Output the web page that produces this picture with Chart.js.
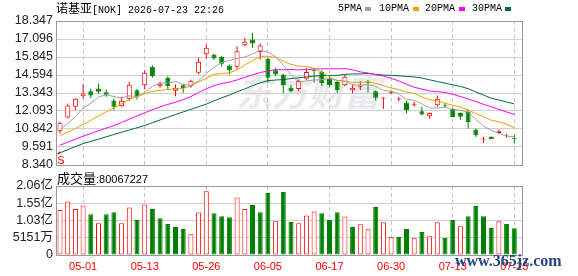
<!DOCTYPE html>
<html>
<head>
<meta charset="utf-8">
<script src="https://cdn.jsdelivr.net/npm/chart.js@4.4.1/dist/chart.umd.min.js"></script>
<style>
  html, body { margin: 0; padding: 0; background: #fff; }
  #wrap { position: relative; width: 578px; height: 276px; overflow: hidden; }
  #wrap canvas { position: absolute; left: 0; top: 0; }
  .t { position: absolute; white-space: nowrap; line-height: 16px; }
  .cn { font-family: "Noto Sans CJK SC", sans-serif; }
  .mono { font-family: "Liberation Mono", monospace; font-size: 10px; }
  .box { position: absolute; width: 6px; height: 4px; }
</style>
</head>
<body>
<div id="wrap">
  <div class="t cn" style="left:236px;top:68px;font-size:36px;line-height:44px;font-weight:bold;font-style:italic;color:#e9e9ee;">东方财富</div>
  <canvas id="volChart" width="578" height="276"></canvas>
  <canvas id="kChart" width="578" height="276"></canvas>

  <div class="t" style="left:56px;top:0px;"><span class="cn" style="font-size:12px;">诺基亚</span><span class="mono">[NOK] 2026-07-23 22:26</span></div>

  <div class="t mono" style="left:338px;top:1px;">5PMA</div>
  <div class="box" style="left:365px;top:7px;background:#a0a0a0;"></div>
  <div class="t mono" style="left:379px;top:1px;">10PMA</div>
  <div class="box" style="left:413px;top:7px;background:#f0a000;"></div>
  <div class="t mono" style="left:425px;top:1px;">20PMA</div>
  <div class="box" style="left:459px;top:7px;background:#ff00ff;"></div>
  <div class="t mono" style="left:472px;top:1px;">30PMA</div>
  <div class="box" style="left:505px;top:7px;background:#00693e;"></div>

  <div class="t" style="left:57px;top:170px;"><span class="cn" style="font-size:13px;">成交量</span><span style="font-family:'Liberation Sans',sans-serif;font-size:11px;">:80067227</span></div>

  <div class="t" style="left:455px;top:252px;font-family:'Liberation Serif',serif;font-size:16px;font-weight:bold;color:#24457f;line-height:18px;">www.365jz.com</div>
</div>

<script>
// 交易日
const dates = ['04-28','04-29','04-30','05-01','05-04','05-05','05-06','05-07','05-08','05-11',
  '05-12','05-13','05-14','05-15','05-18','05-19','05-20','05-21','05-22','05-26',
  '05-27','05-28','05-29','06-01','06-02','06-03','06-04','06-05','06-08','06-09',
  '06-10','06-11','06-12','06-15','06-16','06-17','06-18','06-22','06-23','06-24',
  '06-25','06-26','06-29','06-30','07-01','07-02','07-06','07-07','07-08','07-09',
  '07-10','07-13','07-14','07-15','07-16','07-17','07-20','07-21','07-22','07-23'];
const tickDates = ['05-01','05-13','05-26','06-05','06-17','06-30','07-13','07-23'];

// K线
const opens = [10.69,11.64,12.38,13.12,13.47,13.66,13.40,12.82,12.43,12.94,
  13.54,13.89,15.16,13.82,14.40,13.50,13.89,13.82,14.75,16.04,
  16.02,15.86,15.26,15.16,16.67,17.06,16.20,15.72,14.93,14.63,
  13.70,13.63,14.34,14.93,14.81,14.34,14.10,13.89,13.54,13.74,
  14.14,13.47,12.96,13.33,12.89,12.66,12.52,12.08,11.73,12.50,
  12.52,12.24,11.96,12.03,10.81,10.11,10.30,10.54,10.33,10.23];
const highs = [11.35,12.61,12.98,13.93,13.64,14.00,13.59,12.96,13.08,14.10,
  13.64,14.93,15.27,14.14,14.51,13.93,13.98,14.28,15.79,16.71,
  16.07,15.91,15.32,16.60,17.18,17.52,16.78,15.79,15.09,14.66,
  13.89,14.28,15.09,15.09,14.93,14.47,14.24,14.63,13.93,14.17,
  14.24,13.52,13.05,13.54,13.08,12.82,12.71,12.38,11.98,13.17,
  12.66,12.31,11.99,12.20,10.88,10.30,10.34,10.81,10.53,10.40];
const lows = [10.53,11.57,12.15,12.96,12.99,13.27,13.08,12.15,12.38,12.80,
  12.89,13.59,14.40,13.70,13.59,13.12,13.36,13.70,14.63,15.74,
  15.63,15.16,14.63,14.98,16.60,16.48,15.67,14.05,14.51,13.31,
  13.40,13.47,14.27,14.05,13.82,13.74,13.36,13.82,13.31,13.54,
  13.40,12.82,12.24,13.27,12.75,11.92,12.38,11.78,11.57,12.38,
  12.31,11.65,11.49,10.88,10.29,9.87,10.14,10.50,10.23,9.86];
const closes = [11.27,12.48,12.94,13.31,13.17,13.43,13.22,12.38,12.80,13.91,
  13.08,14.75,14.51,13.98,13.82,13.70,13.67,14.19,15.51,16.48,
  15.74,15.37,14.93,16.25,16.90,16.78,16.64,14.40,14.63,13.89,
  13.47,14.17,14.81,14.86,14.03,13.89,13.54,14.47,13.70,13.82,
  14.05,13.01,13.03,13.40,12.96,12.15,12.59,11.85,11.96,12.94,
  12.45,11.68,11.70,11.32,10.41,10.18,10.15,10.69,10.37,10.16];

// 均线
const ma5 = [10.81,11.22,11.71,12.30,12.63,13.07,13.21,13.10,13.00,13.15,
  13.08,13.38,13.81,14.04,14.03,14.15,13.94,13.88,14.18,14.72,
  15.12,15.46,15.61,15.75,15.84,16.05,16.30,16.19,15.87,15.27,
  14.61,14.11,14.19,14.24,14.27,14.35,14.23,14.16,13.93,13.88,
  13.92,13.81,13.52,13.46,13.29,12.91,12.83,12.59,12.30,12.30,
  12.36,12.18,12.15,12.02,11.51,11.05,10.75,10.54,10.35,10.30];
const ma10 = [10.39,10.62,10.87,11.15,11.45,11.75,12.03,12.31,12.60,12.89,
  13.07,13.30,13.46,13.52,13.59,13.61,13.66,13.84,14.11,14.37,
  14.64,14.70,14.74,14.97,15.28,15.59,15.88,15.90,15.81,15.55,
  15.33,15.21,15.19,15.06,14.77,14.48,14.17,14.18,14.08,14.08,
  14.13,14.02,13.84,13.69,13.59,13.41,13.32,13.06,12.88,12.79,
  12.63,12.50,12.37,12.16,11.91,11.70,11.46,11.34,11.19,10.91];
const ma20 = [9.72,9.93,10.13,10.34,10.53,10.72,10.90,11.08,11.30,11.53,
  11.75,11.97,12.18,12.38,12.55,12.70,12.88,13.10,13.38,13.63,
  13.85,14.00,14.10,14.25,14.43,14.60,14.77,14.87,14.96,14.96,
  14.98,14.95,14.97,15.01,15.02,15.03,15.02,15.04,14.95,14.81,
  14.73,14.61,14.52,14.37,14.18,13.95,13.74,13.62,13.48,13.44,
  13.38,13.26,13.10,12.93,12.75,12.56,12.39,12.20,12.03,11.85];
const ma30 = [9.19,9.40,9.62,9.83,9.98,10.14,10.30,10.46,10.62,10.77,
  10.93,11.08,11.28,11.47,11.66,11.85,12.03,12.21,12.39,12.57,
  12.80,13.01,13.20,13.43,13.63,13.85,14.05,14.20,14.25,14.27,
  14.35,14.40,14.46,14.52,14.54,14.56,14.57,14.64,14.67,14.67,
  14.70,14.64,14.59,14.57,14.54,14.49,14.46,14.38,14.26,14.14,
  14.03,13.91,13.80,13.64,13.42,13.20,12.98,12.86,12.72,12.59];

// 成交量
const volumes = [134300000,160000000,137300000,148000000,122000000,94500000,122000000,128000000,94500000,142000000,
  104500000,151000000,137000000,110000000,92500000,83600000,77600000,61700000,127000000,190000000,
  125000000,116000000,113000000,172000000,137000000,149000000,128000000,185000000,100500000,188000000,
  98500000,94500000,118000000,130000000,125000000,104500000,128000000,115000000,83600000,91500000,
  76600000,143000000,97500000,52700000,53700000,77600000,49800000,68700000,55700000,97500000,
  50700000,104500000,85600000,116000000,146000000,116000000,80600000,100500000,92500000,80067227];

// 坐标刻度
const priceTicks = ['8.340','9.591','10.842','12.093','13.343','14.594','15.845','17.096','18.347'];
const volTicks = [0, 51510000, 103020000, 154530000, 206040000];
const volTickLabels = ['0','5151万','1.03亿','1.55亿','2.06亿'];

const RED = '#ff0000', GREEN = '#008000';
Chart.defaults.font.family = '"Liberation Sans","Noto Sans CJK SC",sans-serif';
Chart.defaults.animation = false;

const tickIdx = tickDates.map(d => dates.indexOf(d));
const xMin = -0.52, xMax = 60;

// K线颜色：收盘对开盘；成交量颜色：收盘对昨收
const candleUp = closes.map((c, i) => c >= opens[i]);
const volUp = closes.map((c, i) => i === 0 ? c >= opens[0] : c >= closes[i - 1]);

// 画边框
const frame = {
  id: 'frameBox',
  afterDatasetsDraw(chart) {
    const a = chart.chartArea, ctx = chart.ctx;
    const l = Math.floor(a.left), t = Math.floor(a.top);
    const r = Math.floor(a.right), b = Math.floor(a.bottom);
    ctx.save();
    ctx.fillStyle = '#999';
    ctx.fillRect(l, t, r - l + 1, 1);
    ctx.fillRect(l, b, r - l + 1, 1);
    ctx.fillRect(l, t, 1, b - t + 1);
    ctx.fillRect(r, t, 1, b - t + 1);
    ctx.restore();
  }
};

// 左下角 S 标记
const sMark = {
  id: 'sMark',
  afterDatasetsDraw(chart) {
    const ctx = chart.ctx;
    const x = chart.scales.x.getPixelForValue(0);
    const y = chart.chartArea.bottom;
    ctx.save();
    ctx.fillStyle = RED;
    ctx.beginPath();
    ctx.moveTo(x - 3, y - 11);
    ctx.lineTo(x, y - 14);
    ctx.lineTo(x, y - 11);
    ctx.fill();
    ctx.font = '11px "Liberation Sans"';
    ctx.textAlign = 'center';
    ctx.textBaseline = 'bottom';
    ctx.fillText('S', x + 1, y + 1);
    ctx.restore();
  }
};

function xScale(showLabels, h) {
  return {
    type: 'linear',
    min: xMin,
    max: xMax,
    offset: false,
    afterBuildTicks: s => { s.ticks = tickIdx.map(v => ({ value: v })); },
    afterFit: s => { s.height = h; },
    grid: { color: '#c8c8c8', drawTicks: false, offset: false },
    border: { display: false, dash: [4, 3] },
    ticks: {
      display: showLabels,
      autoSkip: false,
      maxRotation: 0,
      padding: 5,
      color: RED,
      font: { size: 11 },
      callback: v => dates[v]
    }
  };
}

function yTicks(labels) {
  return {
    autoSkip: false,
    padding: 3,
    color: '#222',
    font: { size: 12.5 },
    callback: (v, idx) => labels[idx]
  };
}

new Chart(document.getElementById('kChart'), {
  type: 'bar',
  data: {
    datasets: [
      { type: 'line', label: '5PMA', data: ma5.map((v, i) => ({ x: i, y: v })), borderColor: '#a0a0a0', borderWidth: 1, pointRadius: 0, order: 1 },
      { type: 'line', label: '10PMA', data: ma10.map((v, i) => ({ x: i, y: v })), borderColor: '#f0a000', borderWidth: 1, pointRadius: 0, order: 1 },
      { type: 'line', label: '20PMA', data: ma20.map((v, i) => ({ x: i, y: v })), borderColor: '#ff00ff', borderWidth: 1, pointRadius: 0, order: 1 },
      { type: 'line', label: '30PMA', data: ma30.map((v, i) => ({ x: i, y: v })), borderColor: '#00693e', borderWidth: 1, pointRadius: 0, order: 1 },
      {
        label: 'body',
        data: opens.map((o, i) => ({ x: i, y: [o, closes[i]] })),
        backgroundColor: candleUp.map(u => u ? '#fff' : GREEN),
        borderColor: candleUp.map(u => u ? RED : GREEN),
        borderWidth: 1,
        borderSkipped: false,
        inflateAmount: 0,
        barThickness: 5,
        grouped: false,
        order: 2
      },
      {
        label: 'wick',
        data: lows.map((l, i) => ({ x: i, y: [l, highs[i]] })),
        backgroundColor: candleUp.map(u => u ? RED : GREEN),
        borderWidth: 0,
        inflateAmount: 0,
        barThickness: 1,
        grouped: false,
        order: 3
      }
    ]
  },
  options: {
    responsive: false,
    devicePixelRatio: 1,
    layout: { padding: { left: 0, top: 21, right: 56, bottom: 111 } },
    plugins: { legend: { display: false }, tooltip: { enabled: false } },
    scales: {
      x: xScale(false, 0),
      y: {
        min: 8.34,
        max: 18.347,
        afterBuildTicks: s => { s.ticks = priceTicks.map(v => ({ value: parseFloat(v) })); },
        afterFit: s => { s.width = 56; },
        grid: { color: '#d0d0d0', drawTicks: false },
        border: { display: false },
        ticks: yTicks(priceTicks)
      }
    }
  },
  plugins: [frame, sMark]
});

new Chart(document.getElementById('volChart'), {
  type: 'bar',
  data: {
    datasets: [{
      label: '成交量',
      data: volumes.map((v, i) => ({ x: i, y: v })),
      backgroundColor: volUp.map(u => u ? '#fff' : GREEN),
      borderColor: volUp.map(u => u ? RED : GREEN),
      borderWidth: 1,
      borderSkipped: false,
      inflateAmount: 0,
      barThickness: 5,
      grouped: false
    }]
  },
  options: {
    responsive: false,
    devicePixelRatio: 1,
    layout: { padding: { left: 0, top: 186, right: 56, bottom: 0 } },
    plugins: { legend: { display: false }, tooltip: { enabled: false } },
    scales: {
      x: xScale(true, 21),
      y: {
        min: 0,
        max: volTicks[volTicks.length - 1],
        afterBuildTicks: s => { s.ticks = volTicks.map(v => ({ value: v })); },
        afterFit: s => { s.width = 56; },
        grid: { color: '#d0d0d0', drawTicks: false },
        border: { display: false },
        ticks: yTicks(volTickLabels)
      }
    }
  },
  plugins: [frame]
});
</script>
</body>
</html>
